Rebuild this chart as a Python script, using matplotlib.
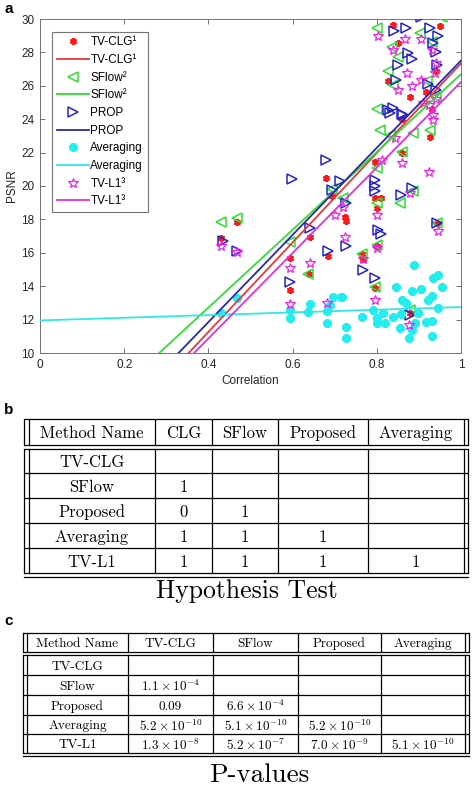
import matplotlib
matplotlib.use("Agg")
import matplotlib.pyplot as plt
from matplotlib.lines import Line2D
from matplotlib.ticker import FuncFormatter
import numpy as np

plt.rcParams["font.family"] = ["Liberation Sans", "DejaVu Sans"]
plt.rcParams["mathtext.fontset"] = "cm"

# ---------------------------------------------------------------- data (a)
clg_x = [0.431, 0.467, 0.595, 0.595, 0.641, 0.638, 0.683, 0.679, 0.693, 0.728,
         0.724, 0.764, 0.796, 0.800, 0.796, 0.796, 0.800, 0.859, 0.926, 0.880,
         0.918, 0.827, 0.851, 0.839, 0.950, 0.944, 0.879, 0.930, 0.940, 0.860,
         0.810, 0.767]
clg_y = [16.9, 17.85, 15.7, 13.8, 16.93, 14.75, 15.8, 20.5, 19.4, 17.9,
         18.16, 15.9, 13.87, 18.66, 19.26, 21.46, 16.4, 22.0, 22.95, 25.3,
         25.65, 26.3, 28.58, 29.64, 29.58, 17.77, 12.4, 24.6, 26.9, 24.0,
         19.3, 15.6]

sflow_x = [0.429, 0.467, 0.594, 0.636, 0.693, 0.720, 0.764, 0.796, 0.800, 0.800,
           0.800, 0.855, 0.887, 0.808, 0.831, 0.887, 0.926, 0.859, 0.827, 0.839,
           0.851, 0.835, 0.801, 0.903, 0.956, 0.930, 0.920, 0.944, 0.879, 0.940,
           0.800]
sflow_y = [17.86, 18.1, 16.67, 14.75, 19.8, 19.26, 15.95, 13.95, 16.45, 21.06,
           19.0, 18.96, 19.7, 23.35, 23.05, 23.19, 23.35, 22.05, 26.9, 26.05,
           27.74, 28.35, 29.44, 29.18, 30.1, 28.6, 26.3, 17.8, 12.6, 25.3,
           24.6]

prop_x = [0.434, 0.469, 0.598, 0.595, 0.641, 0.683, 0.679, 0.693, 0.713, 0.728,
          0.728, 0.767, 0.796, 0.804, 0.810, 0.796, 0.796, 0.796, 0.857, 0.883,
          0.831, 0.863, 0.827, 0.839, 0.861, 0.846, 0.922, 0.941, 0.851, 0.873,
          0.883, 0.941, 0.933, 0.946, 0.926, 0.841, 0.869, 0.904, 0.944, 0.880,
          0.944]
prop_y = [16.7, 16.1, 20.4, 14.27, 17.47, 16.13, 21.56, 19.76, 20.3, 18.96,
          16.4, 15.0, 14.47, 17.37, 17.1, 20.36, 20.0, 19.7, 19.46, 19.86,
          24.35, 24.25, 24.55, 24.65, 24.31, 26.35, 26.1, 25.75, 27.24, 27.98,
          27.58, 28.04, 28.58, 28.96, 29.44, 29.3, 29.44, 30.1, 17.8, 12.27,
          27.25]

avg_x = [0.431, 0.469, 0.594, 0.594, 0.641, 0.637, 0.681, 0.681, 0.695, 0.717,
         0.714, 0.689, 0.728, 0.727, 0.766, 0.792, 0.800, 0.800, 0.815, 0.819,
         0.839, 0.846, 0.855, 0.857, 0.861, 0.869, 0.877, 0.883, 0.883, 0.888,
         0.891, 0.899, 0.904, 0.918, 0.922, 0.930, 0.930, 0.930, 0.934, 0.946,
         0.946, 0.954]
avg_y = [12.4, 13.3, 12.6, 12.08, 12.93, 12.47, 12.53, 11.78, 13.37, 13.37,
         13.33, 12.9, 11.54, 10.88, 12.13, 12.6, 11.78, 12.08, 12.4, 11.78,
         12.17, 13.97, 11.47, 12.33, 13.2, 12.97, 10.88, 13.73, 11.38, 15.27,
         11.78, 12.37, 13.83, 11.87, 13.2, 13.41, 11.93, 11.02, 14.47, 14.67,
         12.67, 13.97]

tvl1_x = [0.431, 0.469, 0.594, 0.594, 0.641, 0.681, 0.700, 0.724, 0.767, 0.796,
          0.800, 0.800, 0.812, 0.859, 0.925, 0.843, 0.934, 0.934, 0.925, 0.851,
          0.883, 0.904, 0.871, 0.938, 0.941, 0.839, 0.867, 0.904, 0.804, 0.930,
          0.946, 0.877, 0.720, 0.880, 0.940, 0.910]
tvl1_y = [16.4, 16.05, 15.1, 12.93, 15.4, 13.0, 18.26, 16.96, 15.6, 13.2,
          16.3, 18.26, 21.56, 21.35, 20.86, 22.85, 24.25, 23.95, 24.85, 25.75,
          26.0, 26.35, 26.78, 26.78, 27.35, 28.14, 28.8, 28.8, 28.98, 28.14,
          17.3, 11.7, 18.76, 19.6, 25.2, 25.0]

# fitted lines: slope, intercept
fit_slope = {"clg": 26.8, "sflow": 23.3, "prop": 26.1, "avg": 0.8, "tvl1": 25.6}
fit_icpt = {"clg": 0.54, "sflow": 3.4, "prop": 1.41, "avg": 11.95, "tvl1": 0.63}

# ---------------------------------------------------------------- data (b, c)
col_names_b = ["Method Name", "CLG", "SFlow", "Proposed", "Averaging"]
col_names_c = ["Method Name", "TV-CLG", "SFlow", "Proposed", "Averaging"]
row_names = ["TV-CLG", "SFlow", "Proposed", "Averaging", "TV-L1"]
hyp_test = [
    [None, None, None, None],
    [1, None, None, None],
    [0, 1, None, None],
    [1, 1, 1, None],
    [1, 1, 1, 1],
]
p_values = [
    [None, None, None, None],
    [1.1e-4, None, None, None],
    [0.09, 6.6e-4, None, None],
    [5.2e-10, 5.1e-10, 5.2e-10, None],
    [1.3e-8, 5.2e-7, 7.0e-9, 5.1e-10],
]

# ---------------------------------------------------------------- figure
W, H = 472, 788
fig = plt.figure(figsize=(W / 100, H / 100), dpi=100)

# overlay axes in pixel coords for the tables and panel letters
tax = fig.add_axes([0, 0, 1, 1])
tax.set_xlim(0, W)
tax.set_ylim(H, 0)
tax.axis("off")

ax = fig.add_axes([40 / W, 1 - 353 / H, 421 / W, 334 / H])

styles = [
    ("clg", clg_x, clg_y, "TV-CLG\u00b9", dict(marker=(6, 2, 0), color="#ff1a1a", ms=5, mew=1.6), "#e8383a"),
    ("sflow", sflow_x, sflow_y, "SFlow\u00b2", dict(marker="<", color="#2ee02e", mfc="none", ms=7, mew=1.1), "#33dd33"),
    ("prop", prop_x, prop_y, "PROP", dict(marker=">", color="#2424c8", mfc="none", ms=7, mew=1.1), "#2a2aa8"),
    ("avg", avg_x, avg_y, "Averaging", dict(marker=(8, 2, 0), color="#22eeee", ms=6, mew=2.2), "#33e6e6"),
    ("tvl1", tvl1_x, tvl1_y, "TV-L1\u00b3", dict(marker="*", color="#f020f0", mfc="none", ms=7.5, mew=0.9), "#e030e0"),
]

xx = np.array([0.0, 1.0])
handles, labels = [], []
for key, xs, ys, lab, mk, lc in styles:
    ax.plot(xs, ys, linestyle="none", **mk, zorder=3)
    ax.plot(xx, fit_slope[key] * xx + fit_icpt[key], color=lc, lw=1.3, zorder=4)
    handles.append(Line2D([], [], linestyle="none", **mk))
    labels.append(lab)
    handles.append(Line2D([], [], color=lc, lw=1.3))
    labels.append(lab)

ax.set_xlim(0, 1)
ax.set_ylim(10, 30)
ax.set_xticks([0, 0.2, 0.4, 0.6, 0.8, 1])
ax.set_yticks(range(10, 31, 2))
ax.xaxis.set_major_formatter(FuncFormatter(lambda v, p: f"{v:g}"))
ax.tick_params(direction="in", top=True, right=True, labelsize=8.5,
               length=3.5, width=0.6, color="0.35", labelcolor="0.15", pad=4)
for s in ax.spines.values():
    s.set_color("0.45")
    s.set_linewidth(0.7)
ax.set_xlabel("Correlation", fontsize=8.5, color="0.15", labelpad=3)
ax.set_ylabel("PSNR", fontsize=8.5, color="0.15", labelpad=2)

leg = ax.legend(handles, labels, loc="upper left", bbox_to_anchor=(0.0285, 0.962),
                borderaxespad=0, fontsize=8.5, handlelength=2.7, handletextpad=0.15,
                labelspacing=0.48, borderpad=0.4, fancybox=False, framealpha=1,
                edgecolor="0.45", numpoints=1)
leg.get_frame().set_linewidth(0.8)

# panel letters
for letter, (lx, ly) in zip("abc", [(9, 9), (9, 410), (9, 621)]):
    tax.text(lx, ly, letter, fontsize=11, fontweight="bold", ha="center", va="center")


# ---------------------------------------------------------------- tables
def draw_table(left, right, head, body, cols, cols_names, cells, fsize, fmt):
    lo, li = left
    ri, ro = right
    lw = 0.9
    # horizontal lines
    for yy in [head[0], head[1]] + list(body):
        tax.plot([lo, ro], [yy, yy], color="black", lw=lw, solid_capstyle="butt")
    # outer double verticals
    for xv in (lo, li, ri, ro):
        tax.plot([xv, xv], [head[0], head[1]], color="black", lw=lw)
        tax.plot([xv, xv], [body[0], body[-1]], color="black", lw=lw)
    edges = [li] + list(cols) + [ri]
    for xv in cols:
        tax.plot([xv, xv], [head[0], head[1]], color="black", lw=lw)
        tax.plot([xv, xv], [body[0], body[-1]], color="black", lw=lw)
    centers = [(edges[i] + edges[i + 1]) / 2 for i in range(len(edges) - 1)]
    ym = (head[0] + head[1]) / 2
    for cx, name in zip(centers, cols_names):
        tax.text(cx, ym, name, family="cmr10", fontsize=fsize, ha="center", va="center_baseline")
    for r, rname in enumerate(row_names):
        ry = (body[r] + body[r + 1]) / 2
        tax.text(centers[0], ry, rname, family="cmr10", fontsize=fsize, ha="center", va="center_baseline")
        for c, v in enumerate(cells[r]):
            if v is None:
                continue
            tax.text(centers[c + 1], ry, fmt(v), family="cmr10", fontsize=fsize,
                     ha="center", va="center_baseline")


def fmt_int(v):
    return f"{v}"


def fmt_p(v):
    if v >= 0.01:
        return f"{v:.2f}"
    e = int(np.floor(np.log10(v)))
    m = v / 10 ** e
    return rf"${m:.1f}\times10^{{{e}}}$"


# (b) hypothesis test
draw_table((24, 28.5), (463.5, 468), (419, 445), [449, 473, 498, 523, 548, 573],
           [155, 212, 278, 368], col_names_b, hyp_test, 12, fmt_int)
tax.plot([24, 468], [577, 577], color="black", lw=0.9)
tax.text(247, 591, "Hypothesis Test", family="cmr10", fontsize=18.5, ha="center", va="center")

# (c) p-values
draw_table((23, 27), (465, 469), (633, 652), [655, 675, 695, 715, 734, 753],
           [128, 213, 298, 381], col_names_c, p_values, 9.5, fmt_p)
tax.plot([23, 469], [756, 756], color="black", lw=0.9)
tax.text(259, 775, "P-values", family="cmr10", fontsize=19.5, ha="center", va="center")

fig.savefig("out.png", dpi=100)
